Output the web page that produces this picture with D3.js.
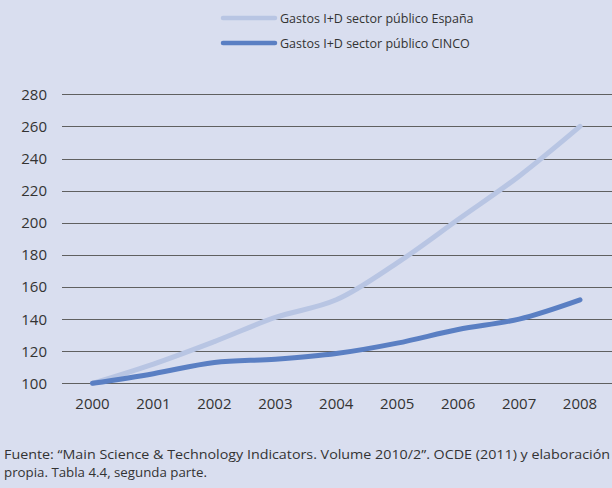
<!DOCTYPE html>
<html><head><meta charset="utf-8">
<script src="https://cdn.jsdelivr.net/npm/d3@7"></script>
<style>
html,body{margin:0;padding:0;background:#d9deef;}
svg{display:block;}
text{font-family:"Open Sans","Noto Sans",sans-serif;fill:#333;}
</style></head><body>
<svg id="c" width="612" height="488"></svg>
<script>
const years = ["2000","2001","2002","2003","2004","2005","2006","2007","2008"];
const espana = [100,112,126,141,152,175,202,229,260];
const cinco = [100,106,113,115,118.5,125,133.5,140,152];
const yTicks = [100,120,140,160,180,200,220,240,260,280];
const seriesNames = ["Gastos I+D sector público España","Gastos I+D sector público CINCO"];
const colors = ["#b8c5e3","#5a7fc3"];

const svg = d3.select("#c");
svg.append("rect").attr("width",612).attr("height",488).attr("fill","#d9deef");

const x = d3.scalePoint().domain(years).range([92.5,580]);
const y = d3.scaleLinear().domain([100,280]).range([383.3,94.3]);

// gridlines
svg.append("g").selectAll("line").data(yTicks).join("line")
  .attr("x1",62).attr("x2",612)
  .attr("y1",d=>Math.round(y(d))+0.5).attr("y2",d=>Math.round(y(d))+0.5)
  .attr("stroke","#606060").attr("stroke-width",1);

// y labels
svg.append("g").selectAll("text").data(yTicks).join("text")
  .attr("x",47).attr("y",d=>y(d)+5.5).attr("text-anchor","end")
  .attr("font-size",15).text(d=>d);

// x labels
svg.append("g").selectAll("text").data(years).join("text")
  .attr("x",d=>x(d)).attr("y",409).attr("text-anchor","middle")
  .attr("font-size",15).text(d=>d);

const line = d3.line().x((d,i)=>x(years[i])).y(d=>y(d)).curve(d3.curveCatmullRom.alpha(0.5));
[espana,cinco].forEach((s,i)=>{
  svg.append("path").attr("d",line(s)).attr("fill","none")
    .attr("stroke",colors[i]).attr("stroke-width",5).attr("stroke-linecap","round");
});

// legend
seriesNames.forEach((n,i)=>{
  const ly = 18 + i*25;
  svg.append("line").attr("x1",223).attr("x2",275).attr("y1",ly).attr("y2",ly)
    .attr("stroke",colors[i]).attr("stroke-width",4.5).attr("stroke-linecap","round");
  svg.append("text").attr("x",280).attr("y",ly+4.5).attr("font-size",12.5).text(n);
});

// footer
const foot = ["Fuente: “Main Science & Technology Indicators. Volume 2010/2”. OCDE (2011) y elaboración","propia. Tabla 4.4, segunda parte."];
svg.append("text").attr("x",4).attr("y",459).attr("font-size",13).attr("textLength",606).attr("lengthAdjust","spacingAndGlyphs").text(foot[0]);
svg.append("text").attr("x",4).attr("y",477).attr("font-size",13).attr("textLength",203).attr("lengthAdjust","spacingAndGlyphs").text(foot[1]);
</script></body></html>
